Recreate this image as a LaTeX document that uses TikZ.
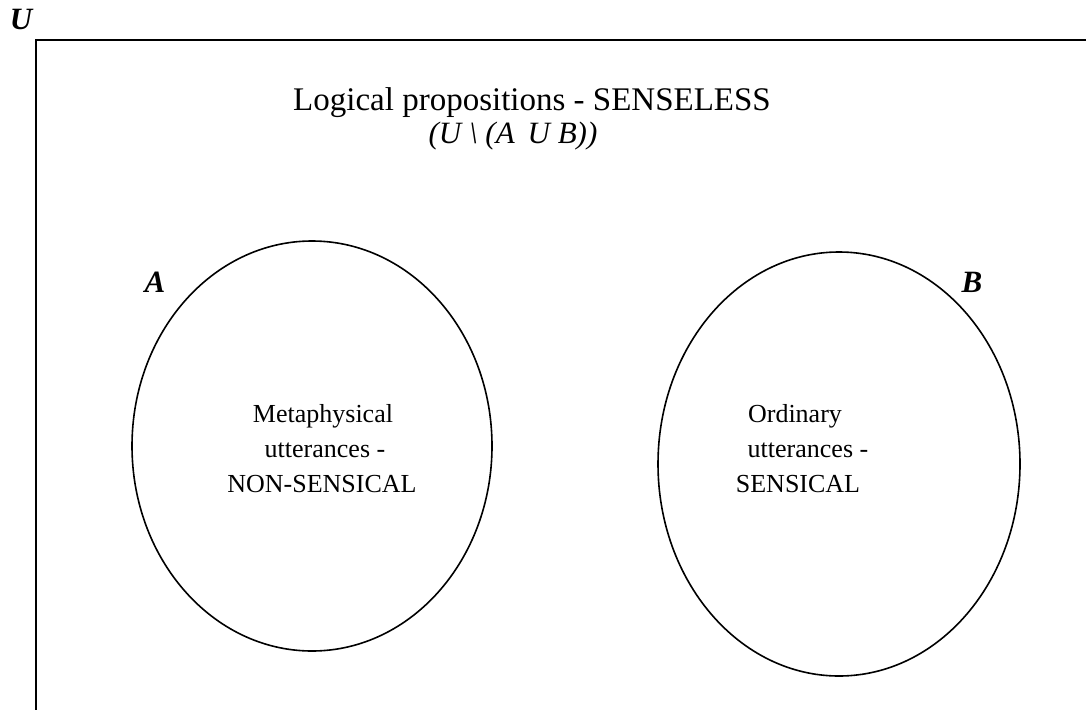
\documentclass[tikz,border=0pt]{standalone}
\usepackage{fontspec}
\setmainfont{Liberation Serif}
\begin{document}
\begin{tikzpicture}[x=1pt,y=-1pt,
  lbl/.style={font=\fontsize{26}{30}\selectfont, inner sep=0pt},
  title/.style={font=\fontsize{33}{36}\selectfont, inner sep=0pt},
  setname/.style={font=\fontsize{31}{34}\selectfont\bfseries\itshape, inner sep=0pt},
  setline/.style={line width=1.6pt}]
\useasboundingbox (0,0) rectangle (1086,709);
\draw[line width=2pt] (36,760) -- (36,40) -- (1120,40);
\node[setname] (U) at (21,19) {U};
\node[title] (t1) at (532,103) {Logical propositions - SENSELESS};
\node[title,font=\fontsize{31}{34}\selectfont\itshape] (t2) at (513,136) {(U \textbackslash\ (A\, U B))};
\draw[setline] (312,446) ellipse [x radius=180, y radius=205];
\draw[setline] (839,464) ellipse [x radius=181, y radius=212];
\node[setname] (A) at (155,282) {A};
\node[setname] (B) at (972,282) {B};
\node[lbl] (a1) at (323,416) {Metaphysical};
\node[lbl] (a2) at (325,450) {utterances -};
\node[lbl] (a3) at (322,484) {NON-SENSICAL};
\node[lbl] (b1) at (795,416) {Ordinary};
\node[lbl] (b2) at (808,450) {utterances -};
\node[lbl] (b3) at (798,484) {SENSICAL};
\end{tikzpicture}
\end{document}
